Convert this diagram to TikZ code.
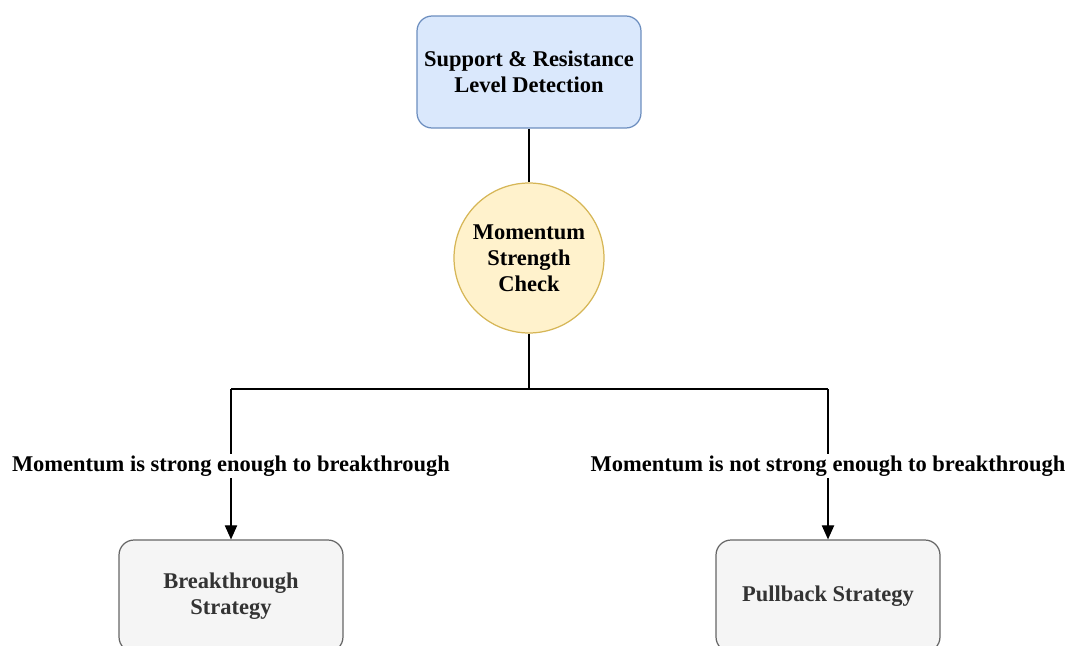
\documentclass[tikz,border=0pt]{standalone}
\usepackage{fontspec}
\setmainfont{Liberation Serif}
\usetikzlibrary{arrows.meta}

\definecolor{topfill}{HTML}{DAE8FC}
\definecolor{topline}{HTML}{6C8EBF}
\definecolor{checkfill}{HTML}{FFF2CC}
\definecolor{checkline}{HTML}{D6B656}
\definecolor{endfill}{HTML}{F5F5F5}
\definecolor{endline}{HTML}{666666}
\definecolor{endtext}{HTML}{333333}

\tikzset{
  boxtext/.style={font=\fontsize{12.8}{14.8}\selectfont\bfseries, align=center},
  topbox/.style={boxtext, draw=topline, fill=topfill, rounded corners=0.3cm,
    minimum width=4.48cm, minimum height=2.24cm, line width=0.7pt},
  checkcircle/.style={boxtext, circle, draw=checkline, fill=checkfill,
    minimum size=3cm, inner sep=0pt, line width=0.7pt},
  endbox/.style={boxtext, draw=endline, fill=endfill, text=endtext, rounded corners=0.3cm,
    minimum width=4.48cm, minimum height=2.24cm, line width=0.7pt},
  caselabel/.style={boxtext, fill=white, inner sep=1pt},
  link/.style={line width=0.7pt},
  arrowlink/.style={link, -{Triangle[length=8pt, width=7pt]}}
}

\begin{document}
\begin{tikzpicture}[x=0.02cm, y=-0.02cm]
\clip (0, 0) rectangle (1069, 646);
\useasboundingbox (0, 0) rectangle (1069, 646);

\node[topbox](detect) at (529, 72) {Support \& Resistance\\Level Detection};
\node[checkcircle](check) at (529, 258) {Momentum\\Strength\\Check};

\node[endbox](breakout) at (231, 596) {Breakthrough\\Strategy};
\node[endbox](pullback) at (828, 596) {Pullback Strategy};

\coordinate(split) at (529, 389);
\coordinate(splitl) at (231, 389);
\coordinate(splitr) at (828, 389);

\draw[link] (detect) -- (check);
\draw[link] (check) -- (split);
\draw[link] (splitl) -- (splitr);

\draw[arrowlink] (splitl) -- (breakout)
  node[caselabel, pos=0.51] {Momentum is strong enough to breakthrough};
\draw[arrowlink] (splitr) -- (pullback)
  node[caselabel, pos=0.51] {Momentum is not strong enough to breakthrough};

\end{tikzpicture}
\end{document}
